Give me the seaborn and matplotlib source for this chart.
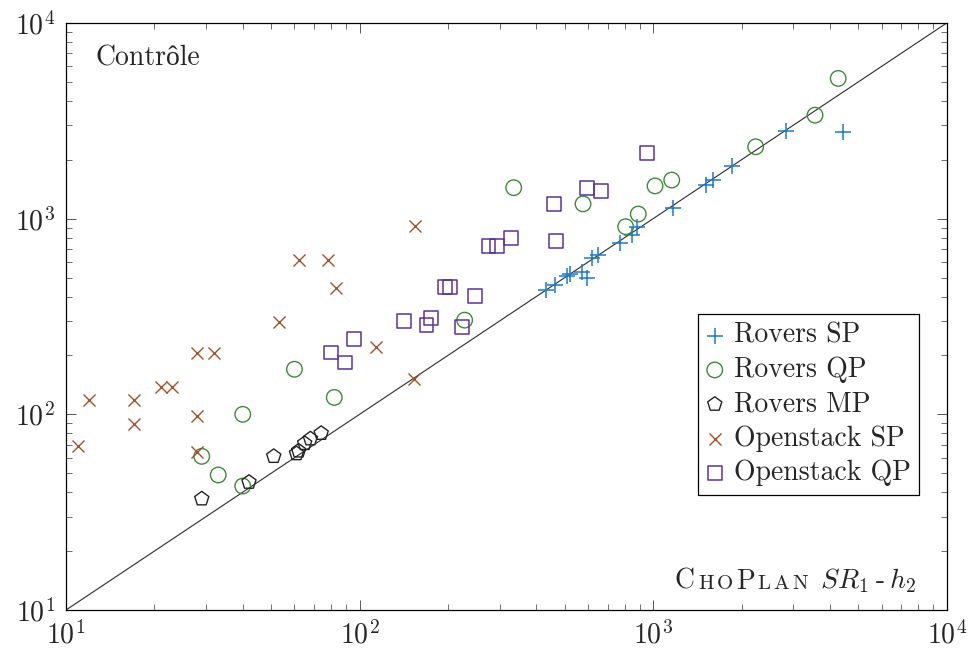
import matplotlib
matplotlib.use("Agg")
import matplotlib.pyplot as plt
import seaborn as sns
import numpy as np
import pandas as pd
from matplotlib.offsetbox import TextArea, HPacker, AnchoredOffsetbox

# ---------------- data ----------------
rovers_sp_x = [432, 463, 508, 521, 571, 594, 618, 651, 771, 845, 879, 1166, 1511, 1596, 1861, 2828, 4420]
rovers_sp_y = [432, 458, 509, 519, 536, 495, 627, 652, 748, 825, 909, 1137, 1485, 1575, 1857, 2813, 2780]

rovers_qp_x = [29, 33, 40, 40, 60, 82, 228, 335, 577, 806, 890, 1015, 1157, 2235, 3560, 4270]
rovers_qp_y = [61, 49, 43, 100, 170, 122, 303, 1440, 1190, 910, 1056, 1470, 1575, 2330, 3380, 5210]

rovers_mp_x = [29, 42, 51, 61, 62, 65, 68, 74]
rovers_mp_y = [37, 45, 61, 63, 65, 71, 75, 80]

openstack_sp_x = [11, 12, 17, 17, 21, 23, 28, 32, 28, 28, 53, 62, 78, 83, 114, 155, 153]
openstack_sp_y = [69, 118, 118, 89, 138, 138, 207, 207, 98, 64, 296, 612, 612, 443, 221, 920, 151]

openstack_qp_x = [80, 96, 89, 142, 175, 169, 223, 196, 203, 247, 275, 293, 328, 467, 460, 597, 663, 951]
openstack_qp_y = [207, 243, 184, 301, 310, 286, 279, 446, 446, 404, 727, 727, 793, 771, 1187, 1440, 1384, 2160]

series_names = ["Rovers SP", "Rovers QP", "Rovers MP", "Openstack SP", "Openstack QP"]
axis_limits = [10, 10000]

# ---------------- style ----------------
sns.set_theme(style="ticks")
plt.rcParams["font.family"] = ["cmr10", "Liberation Serif"]
plt.rcParams["mathtext.fontset"] = "cm"
plt.rcParams["axes.formatter.use_mathtext"] = True
plt.rcParams["axes.unicode_minus"] = False

FS = 20

fig = plt.figure(figsize=(9.69, 6.53), dpi=100)
ax = fig.add_axes([66 / 969, 1 - 610 / 653, (946.7 - 66) / 969, (610 - 23) / 653])

frames = []
for name, xs, ys in [
    ("Rovers SP", rovers_sp_x, rovers_sp_y),
    ("Rovers QP", rovers_qp_x, rovers_qp_y),
    ("Rovers MP", rovers_mp_x, rovers_mp_y),
    ("Openstack SP", openstack_sp_x, openstack_sp_y),
    ("Openstack QP", openstack_qp_x, openstack_qp_y),
]:
    frames.append(pd.DataFrame({"x": xs, "y": ys, "series": name}))
df = pd.concat(frames, ignore_index=True)

# reference diagonal y = x
ax.plot(axis_limits, axis_limits, color="#2b2b2b", lw=0.8, zorder=1)

styles = {
    "Rovers SP": dict(marker="+", color="#1c79d0", s=120, linewidth=1.1),
    "Rovers QP": dict(marker="o", color="none", edgecolor="#3d8b37", s=125, linewidth=1.0),
    "Rovers MP": dict(marker="p", color="none", edgecolor="#222222", s=115, linewidth=1.0),
    "Openstack SP": dict(marker="x", color="#a5502a", s=75, linewidth=1.0),
    "Openstack QP": dict(marker="s", color="none", edgecolor="#5a31a0", s=100, linewidth=1.1),
}
for name in series_names:
    sub = df[df["series"] == name]
    sns.scatterplot(data=sub, x="x", y="y", ax=ax, label=name, zorder=3, **styles[name])

ax.set_xscale("log")
ax.set_yscale("log")
ax.set_xlim(axis_limits)
ax.set_ylim(axis_limits)
ax.set_xlabel("")
ax.set_ylabel("")

for sp in ax.spines.values():
    sp.set_linewidth(0.9)
    sp.set_color("black")

ax.tick_params(which="both", direction="in", top=True, right=True,
               labelsize=FS, color="#555555")
ax.tick_params(which="major", length=7.5, width=0.7, pad=8)
ax.tick_params(which="minor", length=4.5, width=0.6)

leg = ax.legend(loc="upper right", bbox_to_anchor=(0.969, 0.504), fontsize=FS,
                frameon=True, fancybox=False, framealpha=1, edgecolor="black",
                borderpad=0.3, labelspacing=0.285, handlelength=0.6,
                handletextpad=0.4, borderaxespad=0)
leg.get_frame().set_linewidth(0.9)

ax.text(0.033, 0.94, "Contrôle", transform=ax.transAxes, fontsize=FS,
        va="center", ha="left")

big = dict(fontsize=FS)
small = dict(fontsize=FS * 0.75)
letters = [("C", big), ("H", small), ("O", small), ("P", big),
           ("L", small), ("A", small), ("N", small)]
word = HPacker(children=[TextArea(t, textprops=p) for t, p in letters],
               align="baseline", pad=0, sep=2.2)
math_part = TextArea(r"$SR_1\:$-$\:h_2$", textprops=big)
box = HPacker(children=[word, math_part], align="baseline", pad=0, sep=9)
anch = AnchoredOffsetbox(loc="lower right", child=box, frameon=False, pad=0,
                         borderpad=0, bbox_to_anchor=(0.966, 0.025),
                         bbox_transform=ax.transAxes)
ax.add_artist(anch)

fig.savefig("out.png", dpi=100)
